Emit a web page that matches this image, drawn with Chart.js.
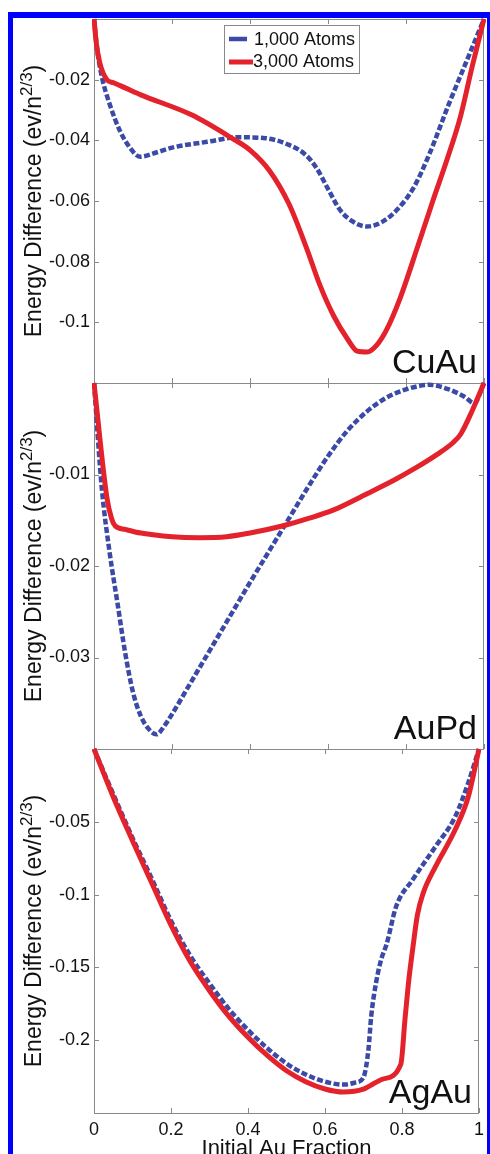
<!DOCTYPE html>
<html>
<head>
<meta charset="utf-8">
<script src="https://cdn.jsdelivr.net/npm/chart.js@4.4.0/dist/chart.umd.min.js"></script>
<style>
html, body { margin: 0; padding: 0; background: #fff; overflow: hidden; }
#wrap { position: relative; width: 490px; height: 1154px; }
#wrap canvas { position: absolute; left: 0; top: 0; }
#frame { position: absolute; left: 8px; top: 12px; width: 484px; height: 1200px; box-sizing: border-box;
         border: 5px solid #0000ff; border-top-width: 6px; pointer-events: none; }
</style>
</head>
<body>
<div id="wrap">
  <canvas id="cuau" width="490" height="1154"></canvas>
  <canvas id="aupd" width="490" height="1154"></canvas>
  <canvas id="agau" width="490" height="1154"></canvas>
  <div id="frame"></div>
</div>
<script>
// shared x axis
var xTicks = [0, 0.2, 0.4, 0.6, 0.8, 1];
var xTickLabels = ["0", "0.2", "0.4", "0.6", "0.8", "1"];
var seriesNames = ["1,000 Atoms", "3,000 Atoms"];
var seriesColors = ["#3b4aa6", "#e4222b"];

// CuAu panel
var cuauX1000 = [0, 0.008, 0.02, 0.04, 0.067, 0.092, 0.118, 0.16, 0.2, 0.29, 0.37, 0.44, 0.50, 0.54, 0.57, 0.60, 0.63, 0.66, 0.70, 0.74, 0.78, 0.82, 0.86, 0.91, 0.955, 1.0];
var cuauY1000 = [0, -0.010, -0.019, -0.028, -0.037, -0.0424, -0.0454, -0.0440, -0.0424, -0.0405, -0.0390, -0.0393, -0.0415, -0.0445, -0.049, -0.056, -0.0628, -0.0665, -0.0684, -0.0668, -0.0625, -0.0555, -0.0445, -0.028, -0.014, 0];
var cuauX3000 = [0, 0.006, 0.015, 0.033, 0.05, 0.08, 0.12, 0.25, 0.35, 0.40, 0.45, 0.50, 0.545, 0.58, 0.615, 0.65, 0.675, 0.70, 0.725, 0.75, 0.785, 0.83, 0.87, 0.905, 0.94, 0.97, 1.0];
var cuauY3000 = [0, -0.008, -0.0145, -0.020, -0.021, -0.0227, -0.025, -0.0316, -0.039, -0.0432, -0.050, -0.061, -0.0755, -0.088, -0.098, -0.1055, -0.1095, -0.1098, -0.1075, -0.1025, -0.092, -0.075, -0.0595, -0.0464, -0.032, -0.0155, 0];
var cuauTicks = [-0.1, -0.08, -0.06, -0.04, -0.02];
var cuauTickLabels = ["-0.1", "-0.08", "-0.06", "-0.04", "-0.02"];

// AuPd panel
var aupdX1000 = [0, 0.02, 0.04, 0.06, 0.08, 0.10, 0.12, 0.14, 0.16, 0.18, 0.2, 0.25, 0.30, 0.35, 0.40, 0.45, 0.50, 0.55, 0.60, 0.65, 0.70, 0.75, 0.80, 0.86, 0.91, 0.95, 0.975, 1.0];
var aupdY1000 = [0, -0.0115, -0.0185, -0.024, -0.0295, -0.0338, -0.0364, -0.0378, -0.0384, -0.0375, -0.0362, -0.0326, -0.029, -0.0254, -0.0218, -0.0183, -0.0148, -0.0113, -0.0080, -0.0052, -0.0031, -0.0016, -0.0007, -0.0002, -0.0007, -0.0015, -0.0022, 0];
var aupdX3000 = [0, 0.033, 0.045, 0.054, 0.08, 0.12, 0.2, 0.27, 0.34, 0.4, 0.485, 0.55, 0.613, 0.7, 0.77, 0.828, 0.88, 0.921, 0.94, 0.97, 1.0];
var aupdY3000 = [0, -0.0125, -0.0148, -0.0156, -0.0160, -0.0164, -0.0168, -0.0169, -0.0168, -0.0164, -0.0156, -0.0148, -0.0139, -0.0121, -0.0106, -0.0092, -0.0078, -0.0065, -0.0056, -0.0030, 0];
var aupdTicks = [-0.03, -0.02, -0.01];
var aupdTickLabels = ["-0.03", "-0.02", "-0.01"];

// AgAu panel
var agauX1000 = [0, 0.05, 0.1, 0.15, 0.2, 0.25, 0.3, 0.35, 0.4, 0.45, 0.5, 0.55, 0.6, 0.65, 0.68, 0.70, 0.713, 0.72, 0.733, 0.746, 0.76, 0.785, 0.828, 0.887, 0.938, 0.972, 1.0];
var agauY1000 = [0, -0.031, -0.061, -0.089, -0.118, -0.142, -0.161, -0.1785, -0.193, -0.2055, -0.216, -0.2235, -0.2285, -0.2305, -0.229, -0.2255, -0.206, -0.1836, -0.160, -0.1445, -0.134, -0.108, -0.0897, -0.067, -0.0466, -0.0233, 0];
var agauX3000 = [0, 0.05, 0.1, 0.15, 0.2, 0.25, 0.3, 0.35, 0.4, 0.45, 0.5, 0.55, 0.6, 0.648, 0.7, 0.75, 0.797, 0.808, 0.818, 0.828, 0.84, 0.855, 0.887, 0.938, 0.972, 1.0];
var agauY3000 = [0, -0.033, -0.063, -0.092, -0.121, -0.146, -0.166, -0.1835, -0.198, -0.2105, -0.221, -0.2285, -0.2335, -0.2356, -0.2336, -0.2267, -0.2164, -0.185, -0.158, -0.137, -0.114, -0.099, -0.0808, -0.0555, -0.033, 0];
var agauTicks = [-0.2, -0.15, -0.1, -0.05];
var agauTickLabels = ["-0.2", "-0.15", "-0.1", "-0.05"];

var FONT = "'Liberation Sans', Arial, sans-serif";
var BOX = "#8a8a8a";
var INK = "#111";

function pts(xs, ys) {
    return xs.map(function (x, i) { return { x: x, y: ys[i] }; });
}

function labelFor(values, labels, v) {
    for (var i = 0; i < values.length; i++) {
        if (Math.abs(values[i] - v) < 1e-9) return labels[i];
    }
    return "";
}

function drawYTitle(ctx, cx, cy) {
    var main = "Energy Difference (ev/n", sup = "2/3", tail = ")";
    ctx.save();
    ctx.translate(cx, cy);
    ctx.rotate(-Math.PI / 2);
    ctx.fillStyle = INK;
    ctx.textAlign = "left";
    ctx.textBaseline = "alphabetic";
    ctx.font = "23px " + FONT;
    var w1 = ctx.measureText(main).width, w3 = ctx.measureText(tail).width;
    ctx.font = "17px " + FONT;
    var w2 = ctx.measureText(sup).width;
    var x0 = -(w1 + w2 + w3) / 2;
    ctx.font = "23px " + FONT;
    ctx.fillText(main, x0, 0);
    ctx.font = "17px " + FONT;
    ctx.fillText(sup, x0 + w1, -9);
    ctx.font = "23px " + FONT;
    ctx.fillText(tail, x0 + w1 + w2, 0);
    ctx.restore();
}

function drawLegend(ctx, a) {
    var lx = a.left + 130, ly = a.top + 6;
    ctx.save();
    ctx.fillStyle = "#fff";
    ctx.fillRect(lx, ly, 136, 49);
    ctx.strokeStyle = BOX;
    ctx.lineWidth = 1;
    ctx.strokeRect(lx + 0.5, ly + 0.5, 135, 48);
    ctx.lineCap = "butt";
    ctx.strokeStyle = seriesColors[0];
    ctx.lineWidth = 4.5;
    ctx.beginPath(); ctx.moveTo(lx + 5, ly + 14); ctx.lineTo(lx + 23, ly + 14); ctx.stroke();
    ctx.strokeStyle = seriesColors[1];
    ctx.lineWidth = 5;
    ctx.beginPath(); ctx.moveTo(lx + 5, ly + 37); ctx.lineTo(lx + 29, ly + 37); ctx.stroke();
    ctx.fillStyle = INK;
    ctx.font = "18px " + FONT;
    ctx.textAlign = "left";
    ctx.textBaseline = "alphabetic";
    ctx.fillText(seriesNames[0], lx + 30, ly + 20);
    ctx.fillText(seriesNames[1], lx + 29, ly + 42);
    ctx.restore();
}

function decor(name, yTicks, showX, showLegend) {
    return {
        id: "decor",
        beforeDatasetsDraw: function (chart) {
            var a = chart.chartArea, ctx = chart.ctx;
            var xs = chart.scales.x, ys = chart.scales.y;
            ctx.save();
            ctx.strokeStyle = BOX;
            ctx.lineWidth = 1;
            ctx.strokeRect(a.left + 0.5, a.top + 0.5, a.right - a.left - 1, a.bottom - a.top);
            ctx.beginPath();
            xTicks.forEach(function (v) {
                var px = Math.round(xs.getPixelForValue(v)) + 0.5;
                ctx.moveTo(px, a.top); ctx.lineTo(px, a.top + 5);
                ctx.moveTo(px, a.bottom); ctx.lineTo(px, a.bottom - 5);
            });
            yTicks.forEach(function (v) {
                var py = Math.round(ys.getPixelForValue(v)) + 0.5;
                ctx.moveTo(a.left, py); ctx.lineTo(a.left + 5, py);
                ctx.moveTo(a.right, py); ctx.lineTo(a.right - 5, py);
            });
            ctx.stroke();
            ctx.restore();
        },
        afterDraw: function (chart) {
            var a = chart.chartArea, ctx = chart.ctx;
            ctx.save();
            ctx.fillStyle = INK;
            ctx.font = "34px " + FONT;
            ctx.textAlign = "right";
            ctx.textBaseline = "alphabetic";
            ctx.fillText(name, a.right - 7, a.bottom - 10);
            if (showX) {
                ctx.font = "22px " + FONT;
                ctx.textAlign = "center";
                ctx.fillText("Initial Au Fraction", (a.left + a.right) / 2, a.bottom + 42);
            }
            ctx.restore();
            drawYTitle(ctx, 41, (a.top + a.bottom) / 2);
            if (showLegend) drawLegend(ctx, a);
        }
    };
}

function makePanel(id, name, x1000, y1000, x3000, y3000, yMin, yTicks, yTickLabels, padTop, padBottom, showX, showLegend) {
    var ctx = document.getElementById(id).getContext("2d");
    return new Chart(ctx, {
        type: "line",
        data: {
            datasets: [
                {
                    label: seriesNames[0],
                    data: pts(x1000, y1000),
                    borderColor: seriesColors[0],
                    borderWidth: 4.5,
                    borderDash: [6, 2.5],
                    pointRadius: 0,
                    fill: false,
                    cubicInterpolationMode: "monotone",
                    order: 2,
                    clip: 2
                },
                {
                    label: seriesNames[1],
                    data: pts(x3000, y3000),
                    borderColor: seriesColors[1],
                    borderWidth: 5,
                    pointRadius: 0,
                    fill: false,
                    cubicInterpolationMode: "monotone",
                    order: 1,
                    clip: 2
                }
            ]
        },
        options: {
            responsive: false,
            animation: false,
            devicePixelRatio: 1,
            events: [],
            layout: { padding: { left: 0, right: 6, top: padTop, bottom: padBottom } },
            plugins: { legend: { display: false }, tooltip: { enabled: false } },
            scales: {
                x: {
                    type: "linear",
                    min: 0,
                    max: 1,
                    display: showX,
                    grid: { display: false, drawTicks: false },
                    border: { display: false },
                    afterBuildTicks: function (s) { s.ticks = xTicks.map(function (v) { return { value: v }; }); },
                    afterFit: function (s) { if (showX) s.height = 41; },
                    ticks: {
                        autoSkip: false,
                        maxRotation: 0,
                        padding: 6,
                        color: INK,
                        font: { family: FONT, size: 18 },
                        callback: function (v) { return labelFor(xTicks, xTickLabels, v); }
                    }
                },
                y: {
                    type: "linear",
                    min: yMin,
                    max: 0,
                    grid: { display: false, drawTicks: false },
                    border: { display: false },
                    afterBuildTicks: function (s) { s.ticks = yTicks.map(function (v) { return { value: v }; }); },
                    afterFit: function (s) { s.width = 94; },
                    ticks: {
                        autoSkip: false,
                        padding: 4,
                        color: INK,
                        font: { family: FONT, size: 18 },
                        callback: function (v) { return labelFor(yTicks, yTickLabels, v); }
                    }
                }
            }
        },
        plugins: [decor(name, yTicks, showX, showLegend)]
    });
}

makePanel("cuau", "CuAu", cuauX1000, cuauY1000, cuauX3000, cuauY3000, -0.12, cuauTicks, cuauTickLabels, 19, 771, false, true);
makePanel("aupd", "AuPd", aupdX1000, aupdY1000, aupdX3000, aupdY3000, -0.04, aupdTicks, aupdTickLabels, 383, 405, false, false);
makePanel("agau", "AgAu", agauX1000, agauY1000, agauX3000, agauY3000, -0.25, agauTicks, agauTickLabels, 749, 0, true, false);
</script>
</body>
</html>
